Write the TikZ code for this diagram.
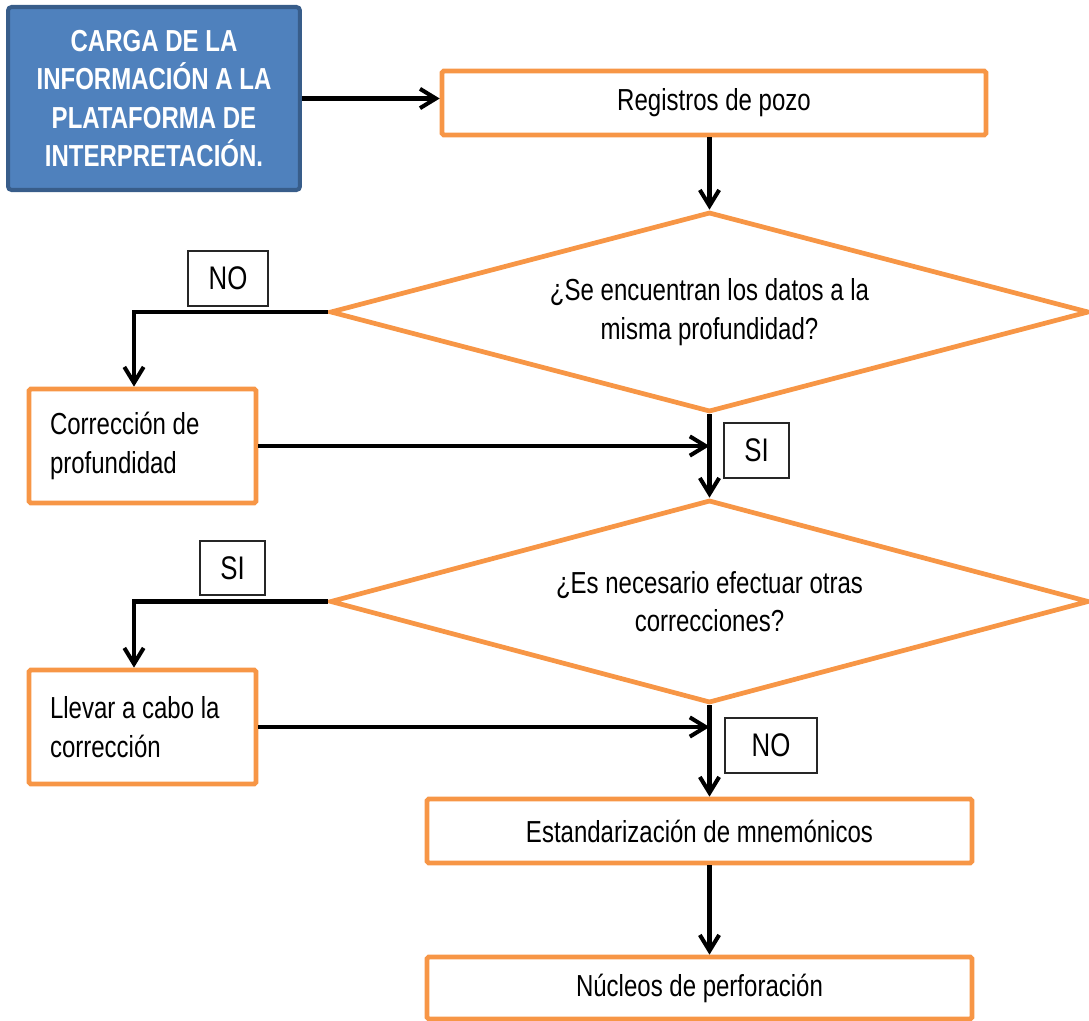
\documentclass[tikz,border=0pt]{standalone}
\usepackage{fontspec}
\setmainfont{Liberation Sans}[FakeStretch=0.79]
\usetikzlibrary{positioning, arrows.meta, shapes.geometric, calc}

\definecolor{cargablue}{HTML}{4F81BD}
\definecolor{cargaedge}{HTML}{385D8A}
\definecolor{pasoorange}{HTML}{F79646}

\begin{document}
\begin{tikzpicture}[x=0.02cm, y=-0.02cm, >={Straight Barb[length=9pt,width=11pt]},
    font=\fontsize{17.3}{22}\selectfont,
    paso/.style={draw=pasoorange, line width=2.7pt, rectangle, rounded corners=1pt},
    pregunta/.style={draw=pasoorange, line width=2.7pt, diamond, aspect=3.8, align=center, minimum width=15.18cm},
    caja/.style={draw=black!85, line width=0.8pt, rectangle, minimum height=1.1cm, font=\fontsize{18.6}{22}\selectfont},
    flecha/.style={->, line width=2.3pt}]

	\useasboundingbox (0,0) rectangle (1089,1021);

	\node (carga) [draw=cargaedge, fill=cargablue, line width=2.3pt, rounded corners=2pt, minimum width=5.84cm, minimum height=3.66cm, align=center, text=white, font=\fontsize{17.3}{21.9}\selectfont\bfseries] at (154,98.5) {CARGA DE LA\\INFORMACIÓN A LA\\PLATAFORMA DE\\INTERPRETACIÓN.};
	\node (reg) [paso, minimum width=10.88cm, minimum height=1.28cm] at (714,103) {Registros de pozo};
	\node (q1) [pregunta, minimum height=4cm] at (709.5,312) {¿Se encuentran los datos a la\\misma profundidad?};
	\node (corr) [paso, text width=3.7cm, inner xsep=0.42cm, minimum height=2.28cm, align=flush left] at (142.5,446) {Corrección de\\profundidad};
	\node (q2) [pregunta, minimum height=4.06cm] at (709.5,601.5) {¿Es necesario efectuar otras\\correcciones?};
	\node (llevar) [paso, text width=3.7cm, inner xsep=0.42cm, minimum height=2.28cm, align=flush left] at (142.5,727) {Llevar a cabo la\\corrección};
	\node (est) [paso, minimum width=10.9cm, minimum height=1.28cm] at (699.5,831) {Estandarización de mnemónicos};
	\node (nuc) [paso, minimum width=10.9cm, minimum height=1.24cm] at (699.5,988) {Núcleos de perforación};

	% etiquetas de las decisiones
	\node (no1) [caja, minimum width=1.6cm] at (228,278.5) {NO};
	\node (si1) [caja, minimum width=1.3cm] at (756.5,450.5) {SI};
	\node (si2) [caja, minimum width=1.3cm, minimum height=1.08cm] at (232.5,568) {SI};
	\node (no2) [caja, minimum width=1.84cm] at (771,745.5) {NO};

	\draw[flecha] (carga.east) -- (carga.east -| reg.west);
	\draw[flecha] (reg.south -| q1.north) -- (q1.north);
	\draw[flecha] (q1.west) -| ([xshift=-0.17cm]corr.north);
	\draw[flecha] (corr.east) -- (corr.east -| q1.south);
	\draw[flecha] (q1.south) -- (q2.north);
	\draw[flecha] (q2.west) -| ([xshift=-0.17cm]llevar.north);
	\draw[flecha] (llevar.east) -- (llevar.east -| q2.south);
	\draw[flecha] (q2.south) -- (q2.south |- est.north);
	\draw[flecha] (q2.south |- est.south) -- (q2.south |- nuc.north);
\end{tikzpicture}
\end{document}
